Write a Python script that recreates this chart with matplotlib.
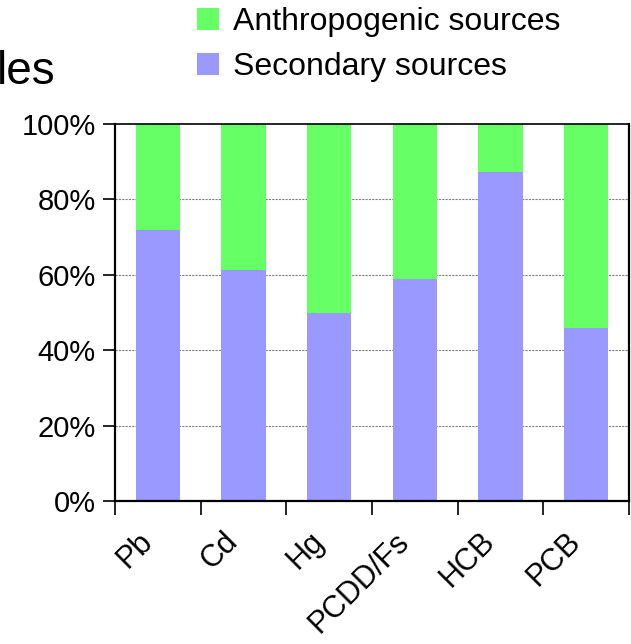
import matplotlib
matplotlib.use("Agg")
import matplotlib.pyplot as plt
import matplotlib.transforms as mtransforms
import numpy as np

plt.rcParams['font.family'] = ['Liberation Sans', 'DejaVu Sans']

categories = ["Pb", "Cd", "Hg", "PCDD/Fs", "HCB", "PCB"]
secondary = [72.0, 61.3, 49.8, 58.8, 87.3, 45.8]
anthropogenic = [100 - v for v in secondary]
yticks = [0, 20, 40, 60, 80, 100]
ytick_labels = ["0%", "20%", "40%", "60%", "80%", "100%"]

W, H = 631, 644
fig = plt.figure(figsize=(W / 100, H / 100), dpi=100)
ax = fig.add_axes([115 / W, 1 - 501 / H, (629 - 115) / W, (501 - 124) / H])

x = np.arange(len(categories))
green = "#66FF66"
purple = "#9999FF"
b1 = ax.bar(x, secondary, width=0.52, color=purple, label="Secondary sources", zorder=2)
b2 = ax.bar(x, anthropogenic, width=0.52, bottom=secondary, color=green,
            label="Anthropogenic sources", zorder=2)

ax.set_xlim(-0.5, len(categories) - 0.5)
ax.set_ylim(0, 100)
ax.set_yticks(yticks)
ax.set_yticklabels(ytick_labels, fontsize=21)
ax.tick_params(axis='y', direction='out', length=9, width=1.2, pad=5)

ax.set_xticks(x)
ax.set_xticklabels(categories, fontsize=22, rotation=45, ha='right', va='center',
                   rotation_mode='anchor')
ax.tick_params(axis='x', which='major', length=0, pad=26)
offset = mtransforms.ScaledTranslation(-10 / 100, 0, fig.dpi_scale_trans)
for lab in ax.get_xticklabels():
    lab.set_transform(lab.get_transform() + offset)
ax.set_xticks(np.arange(-0.5, len(categories)), minor=True)
ax.tick_params(axis='x', which='minor', direction='out', length=10, width=1.2)

for yv in [20, 40, 60, 80]:
    ax.axhline(yv, color='#808080', linestyle=(0, (2, 1)), linewidth=0.8, zorder=1)

for s in ['left', 'bottom']:
    ax.spines[s].set_linewidth(1.6)
    ax.spines[s].set_color('black')
ax.spines['top'].set_linewidth(1.2)
ax.spines['right'].set_linewidth(1.6)

leg = fig.legend(handles=[b2, b1], labels=["Anthropogenic sources", "Secondary sources"],
                 loc='upper left', bbox_to_anchor=(197 / W, 1 - 7 / H),
                 frameon=False, fontsize=23, handlelength=0.69, handleheight=0.69,
                 handletextpad=0.44, labelspacing=0.48, borderpad=0, borderaxespad=0)

fig.text(-3 / W, 1 - 84 / H, "les", fontsize=33, ha='left', va='baseline')

fig.savefig("out.png", dpi=100)
